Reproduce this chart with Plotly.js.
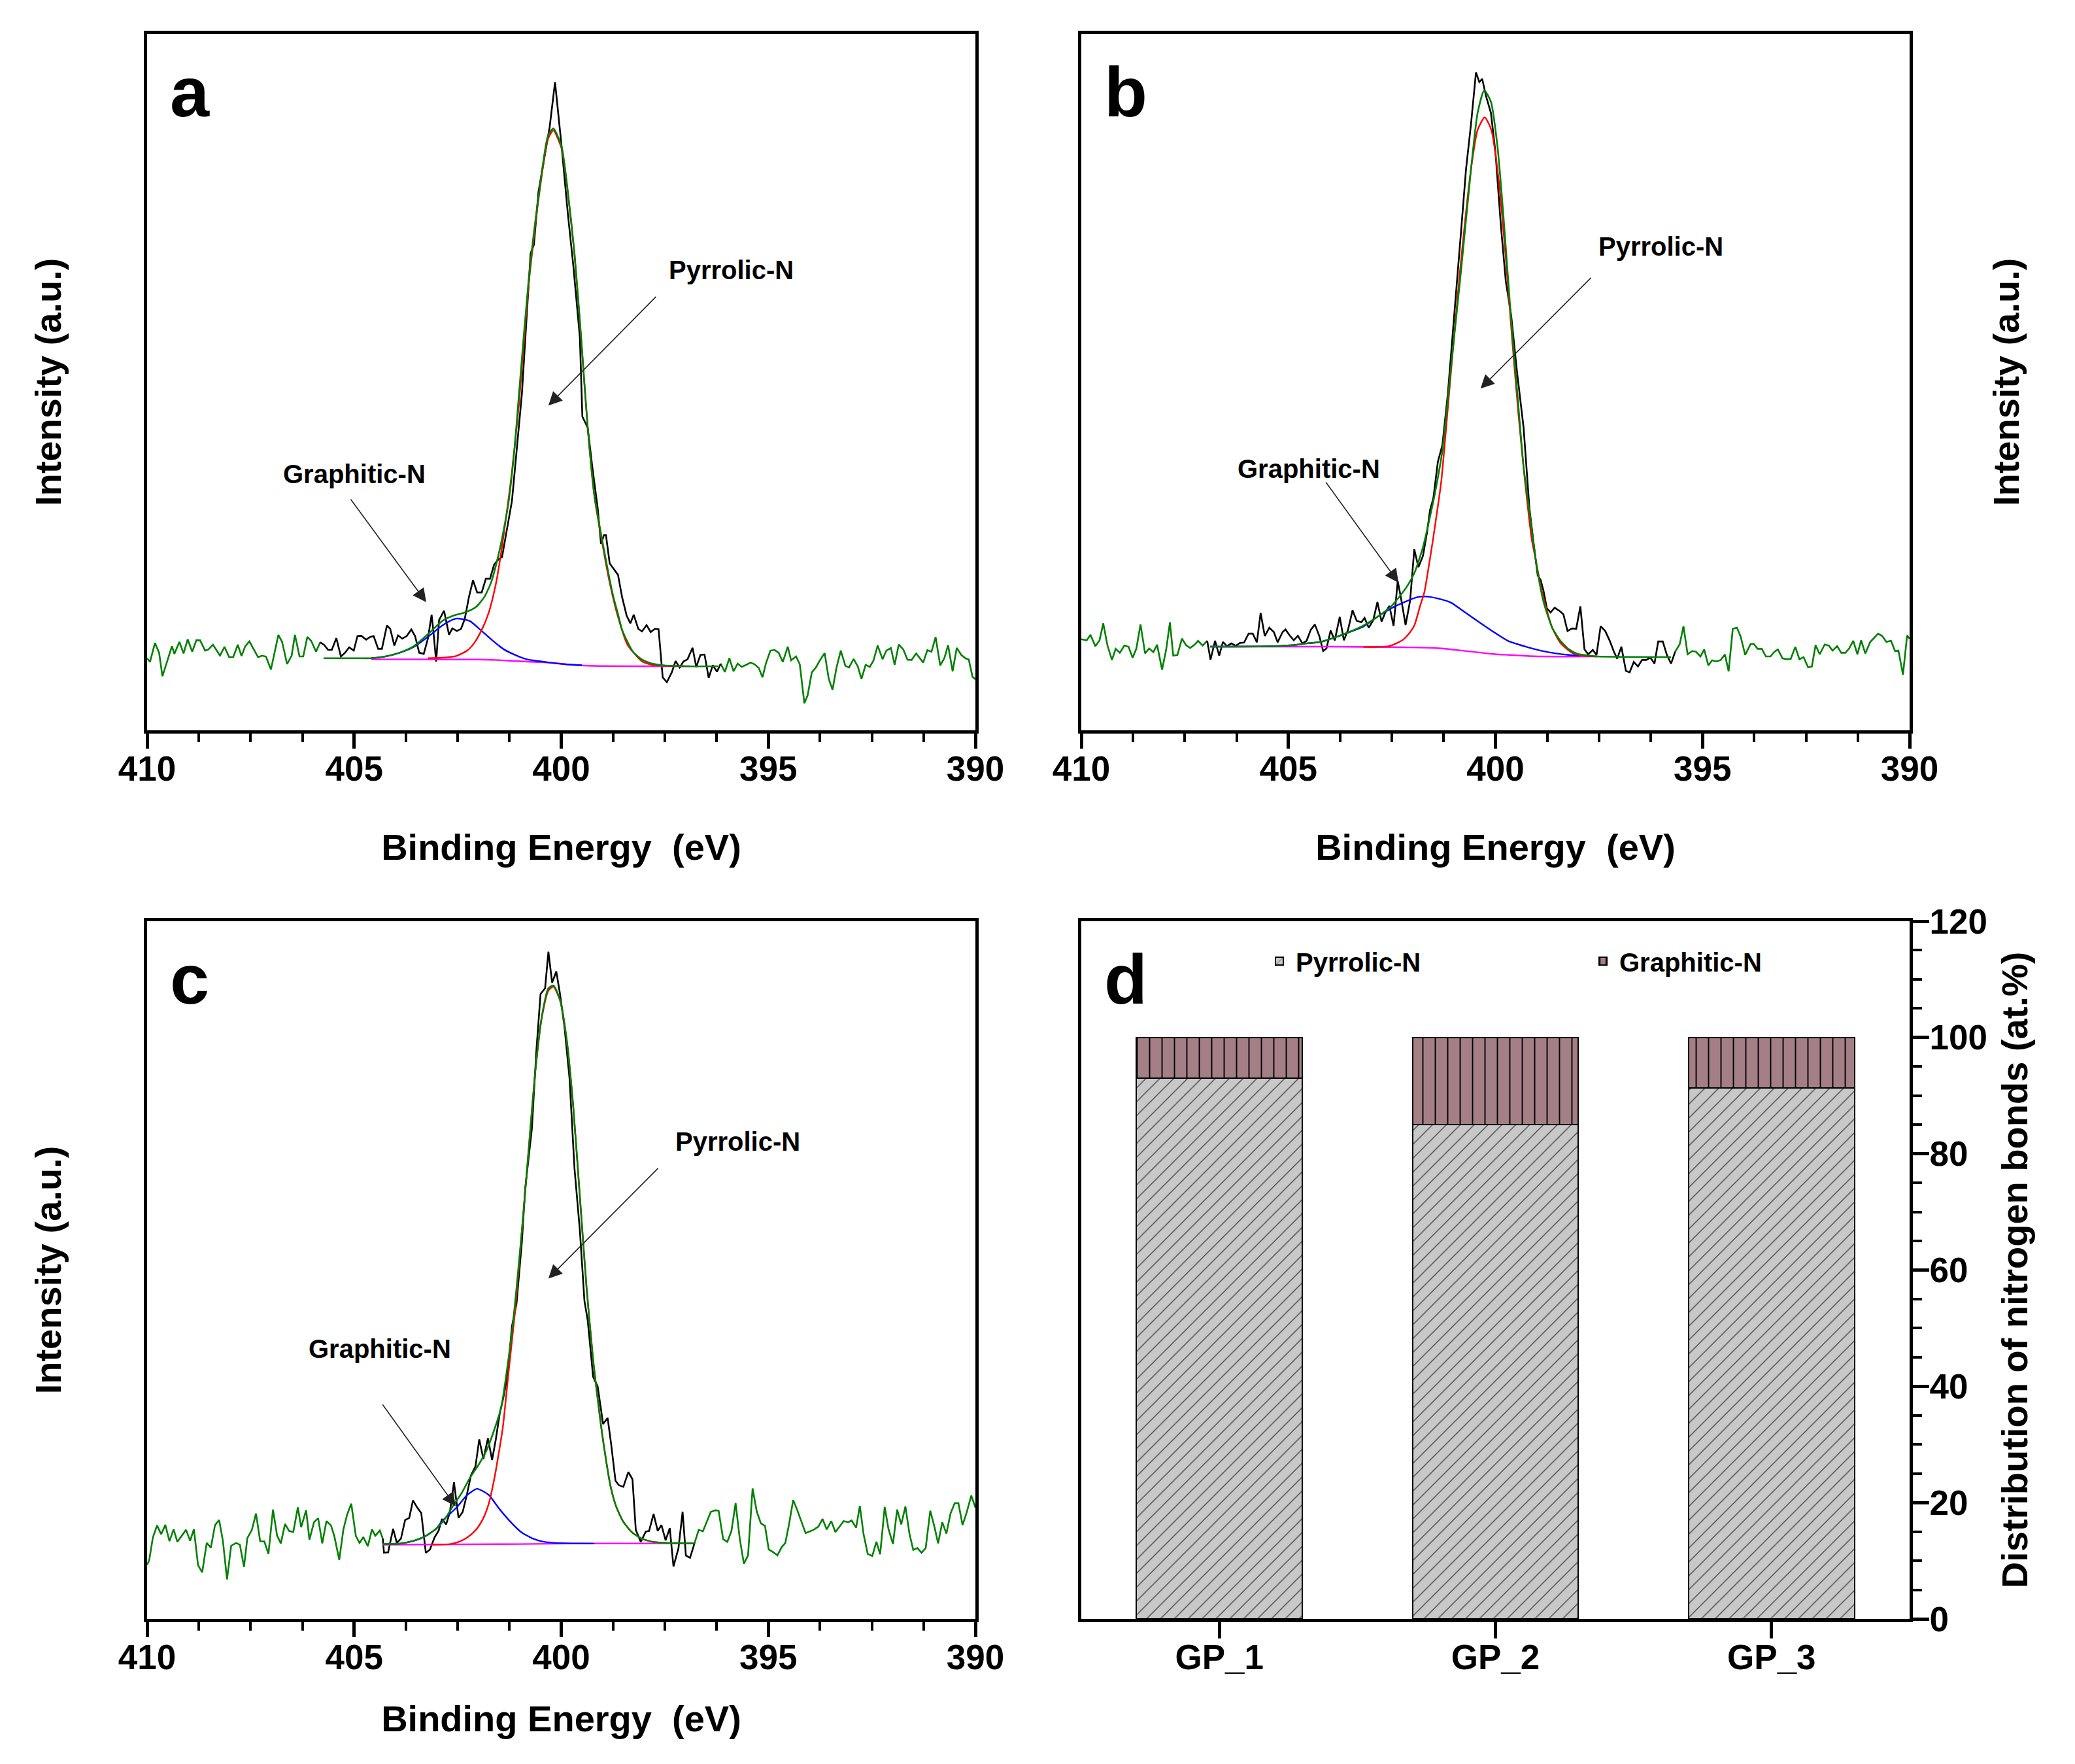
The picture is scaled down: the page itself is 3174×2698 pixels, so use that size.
<!DOCTYPE html>
<html>
<head>
<meta charset="utf-8">
<script src="https://cdn.plot.ly/plotly-3.0.1.min.js"></script>
<style>html,body{margin:0;padding:0;background:#fff;}#chart{width:3174px;height:2698px;}</style>
</head>
<body>
<div id="chart"></div>
<script>
// ---------------- DATA (binding energy eV, intensity a.u.) ----------------
// Panel a
const aRawLeft = [[410.00,110.3],[409.93,104.7],[409.81,133.7],[409.71,118.7],[409.63,82.7],[409.52,103.7],[409.40,128.7],[409.34,117],[409.22,135.3],[409.12,117.7],[409.02,139.3],[408.91,120.3],[408.81,138],[408.72,137.7],[408.60,122],[408.52,123.7],[408.41,131],[408.24,114.3],[408.13,127.7],[408.02,112],[407.92,112],[407.81,131],[407.72,113.7],[407.63,128.7],[407.53,136],[407.32,112],[407.22,114.3],[407.13,112.7],[407.01,93],[406.83,146],[406.74,135.3],[406.62,101.3],[406.51,114.3],[406.43,146],[406.32,113],[406.23,113],[406.13,143],[406.04,137],[405.92,120.3],[405.82,134.7]];
const aRawFit = [[405.82,134.7],[405.72,130.3],[405.63,123],[405.54,123],[405.43,141],[405.32,113],[405.22,118.7],[405.12,127],[405.01,122],[404.92,144.3],[404.83,144.7],[404.71,138.7],[404.62,142.7],[404.53,144.3],[404.42,124.7],[404.33,124.7],[404.21,160.3],[404.13,155.3],[404.03,129.7],[403.94,145.3],[403.84,140.3],[403.73,144.3],[403.62,154.3],[403.53,144.3],[403.43,118.7],[403.32,117],[403.22,140.3],[403.13,177],[403.09,153.7],[403.02,105.3],[402.95,168.7],[402.83,183],[402.71,146.3],[402.63,156],[402.52,152],[402.42,155.3],[402.33,170.3],[402.23,203.7],[402.13,229.7],[402.03,211],[401.92,211],[401.82,232],[401.72,232],[401.62,253.7],[401.51,262],[401.43,265],[401.19,351],[400.95,515],[400.74,730],[400.66,743],[400.55,824],[400.39,885],[400.28,923],[400.15,992],[400.07,945],[399.99,893],[399.84,790],[399.71,712],[399.55,601],[399.49,480],[399.36,463],[399.25,403],[399.12,340],[399.04,285.3],[398.97,298.7],[398.92,298.7],[398.83,255.3],[398.73,247],[398.63,238],[398.53,203.7],[398.42,175.3],[398.33,163.7],[398.25,177],[398.14,155.3],[398.05,151.3],[397.94,161],[397.84,150.3],[397.74,155.3],[397.65,154.7],[397.55,81],[397.45,73.7],[397.33,88.7],[397.24,106],[397.14,96],[397.05,105.3],[396.95,108.7],[396.83,126.3],[396.74,97],[396.64,115.3],[396.54,116],[396.44,80.3],[396.34,99.7],[396.24,89.7],[396.15,102]];
const aRawRight = [[396.15,102],[396.05,89.3],[395.94,110.3],[395.84,90.3],[395.74,102],[395.64,97],[395.53,100.3],[395.43,103.7],[395.33,101],[395.23,95.3],[395.14,81],[395.06,102],[394.95,122],[394.85,123],[394.75,118.7],[394.65,104.7],[394.53,128],[394.45,107],[394.33,113],[394.24,101],[394.13,41.3],[394.05,53.7],[393.95,88.7],[393.85,96.3],[393.74,108.7],[393.64,118],[393.54,78.7],[393.45,62],[393.35,97],[393.25,122],[393.14,98.7],[393.05,96.3],[392.94,109.3],[392.84,97.7],[392.75,78.7],[392.65,100.3],[392.55,97],[392.46,107],[392.36,129.7],[392.24,108.7],[392.15,122],[392.04,126],[391.95,100.3],[391.85,131.3],[391.74,123.7],[391.64,108],[391.54,107.7],[391.43,117.7],[391.26,103.7],[391.16,122.7],[391.06,120.3],[390.96,142.7],[390.85,99.3],[390.75,110.3],[390.66,130.3],[390.55,90.3],[390.45,126],[390.34,115.3],[390.24,110.3],[390.16,108.3],[390.07,82],[390.00,78]];
const aEnvelope = [[405.74,110.3],[405.00,110.3],[404.59,110.3],[404.25,113],[403.91,118.7],[403.56,128.7],[403.22,147],[402.88,167],[402.61,175.3],[402.33,180.3],[402.06,188.7],[401.86,203.7],[401.69,227],[401.51,270],[401.41,300],[401.27,350],[401.13,430],[401.02,515],[400.79,687],[400.55,816],[400.32,910],[400.19,921],[399.99,893],[399.84,824],[399.68,730],[399.52,601],[399.36,463],[399.20,360],[399.02,293.7],[398.95,270.3],[398.85,237],[398.74,203.7],[398.64,180.3],[398.53,153.7],[398.40,135.3],[398.27,120.3],[398.06,108.7],[397.86,103],[397.58,99.7],[397.04,98],[396.22,98]];
const aPyrrolic = [[403.22,110.3],[402.88,111],[402.54,113.7],[402.27,122],[402.10,133.7],[401.92,153.7],[401.75,180.3],[401.58,223.7],[401.48,260],[401.38,303.7],[401.20,390],[401.02,500],[400.79,680],[400.55,812],[400.32,905],[400.19,918],[399.99,890],[399.84,822],[399.68,728],[399.52,600],[399.36,462],[399.20,358],[399.02,290],[398.85,232],[398.64,176],[398.40,131],[398.06,106],[397.86,101],[397.58,99],[397.04,98]];
const aGraphitic = [[404.59,110.3],[404.25,113],[403.91,118.5],[403.56,127.5],[403.22,143],[402.88,160],[402.70,167],[402.54,171],[402.37,170],[402.20,167],[401.92,152],[401.65,137],[401.38,123.7],[401.10,115],[400.83,108.7],[400.56,106],[400.28,103.7],[399.90,101],[399.50,99.5]];
const aBaseline = [[404.59,108.7],[402.00,108.3],[401.60,107.7],[400.80,105],[400.30,103.5],[399.70,100],[399.20,98.5],[396.90,98]];

// Panel b
const bRawLeft = [[410.00,139.3],[409.87,137.7],[409.78,146],[409.66,128.7],[409.56,137.7],[409.47,163.7],[409.37,130.3],[409.26,107.7],[409.17,124.7],[409.07,118.7],[408.96,129.7],[408.86,127.7],[408.76,111],[408.67,125.3],[408.57,162],[408.46,117.7],[408.36,125.3],[408.26,119.7],[408.17,131],[408.05,92.7],[407.95,123.7],[407.86,165.3],[407.78,114.3],[407.68,115.3],[407.57,140.3],[407.47,130.3],[407.37,126],[407.26,131.3],[407.18,137],[407.07,129.7],[406.96,137]];
const bRawFit = [[406.96,137],[406.88,108],[406.77,137],[406.67,114.3],[406.58,135.3],[406.48,128.7],[406.38,133],[406.27,129.3],[406.17,133.7],[406.07,134.3],[405.96,148],[405.86,148],[405.76,134.7],[405.67,179.7],[405.57,144.3],[405.46,157],[405.35,150.3],[405.26,134.7],[405.14,150.3],[405.07,154.3],[404.97,145.3],[404.87,137.7],[404.77,144.7],[404.66,133],[404.56,137],[404.46,153.7],[404.36,162],[404.25,143.7],[404.16,121.3],[404.08,125.3],[403.98,152.7],[403.88,137.7],[403.76,173.7],[403.66,137.7],[403.56,153.7],[403.45,183.7],[403.35,167.7],[403.24,165.3],[403.16,172],[403.06,157],[402.95,168.7],[402.85,196.3],[402.75,166.3],[402.66,180.3],[402.56,190.3],[402.46,159.7],[402.36,228.7],[402.27,198.7],[402.17,161],[402.06,198.7],[401.96,277],[401.86,249.7],[401.75,267],[401.65,303.7],[401.58,337],[401.50,355],[401.39,411],[401.28,437],[401.15,515],[400.99,635],[400.83,764],[400.71,859],[400.59,928],[400.47,1007],[400.39,992],[400.32,997],[400.23,971],[400.11,945],[400.00,885],[399.87,773],[399.75,687],[399.62,635],[399.48,549],[399.32,463],[399.18,340],[399.08,287],[398.98,237],[398.91,230.3],[398.84,213.7],[398.76,187],[398.67,180.3],[398.57,187.7],[398.46,183],[398.36,177.7],[398.26,152],[398.15,156],[398.05,155.3],[397.95,189.7],[397.85,123.7],[397.76,116.3],[397.65,123],[397.56,115.3],[397.46,159.3],[397.35,152],[397.24,137],[397.14,120.3],[397.06,109.7],[396.96,128],[396.85,91],[396.76,88.7],[396.66,104.7],[396.56,97.7],[396.46,107.7],[396.36,107.7],[396.26,111.3],[396.16,102],[396.07,136],[395.96,136],[395.86,115.3],[395.76,102],[395.66,120.3]];
const bRawRight = [[395.66,120.3],[395.55,132],[395.46,159.3],[395.36,116.3],[395.25,121.3],[395.16,120.3],[395.05,113],[394.96,123.7],[394.86,99.3],[394.77,107],[394.66,105.3],[394.56,107.7],[394.46,116],[394.37,90.3],[394.27,155.3],[394.17,157],[394.08,143.7],[393.97,115.3],[393.84,132],[393.76,132],[393.67,124.7],[393.57,124.7],[393.47,113],[393.36,113],[393.26,120.3],[393.18,123.7],[393.07,110.3],[392.97,108.7],[392.87,109.3],[392.76,127.7],[392.66,108.7],[392.56,112],[392.45,96.3],[392.36,97.7],[392.27,130.3],[392.17,116.3],[392.05,131.3],[391.95,129.7],[391.86,122],[391.75,128.7],[391.65,118.7],[391.55,118.7],[391.46,125.3],[391.36,137],[391.26,116.3],[391.17,137.7],[391.07,117.7],[390.95,135.3],[390.76,148],[390.66,144.3],[390.56,135.3],[390.45,137],[390.35,121],[390.27,122],[390.16,85.3],[390.06,145.3],[390.00,140.3]];
const bEnvelope = [[406.89,128],[405.50,128.5],[404.90,130.3],[404.56,133],[404.22,135.3],[403.88,142],[403.54,150.3],[403.19,160.3],[402.85,173.7],[402.51,190.3],[402.17,217],[401.96,240.3],[401.75,280.3],[401.58,327],[401.47,360],[401.28,428.5],[401.07,557.6],[400.83,704],[400.59,858.8],[400.43,945],[400.27,979.3],[400.11,962],[399.95,893],[399.79,772.8],[399.63,635],[399.47,514.6],[399.32,402.7],[399.18,335],[399.01,253.7],[398.84,197],[398.63,157],[398.43,137],[398.22,123.7],[398.02,117],[397.74,114.3],[397.54,113],[395.76,112]];
const bPyrrolic = [[403.19,127.7],[402.85,127.7],[402.58,128.7],[402.37,133.7],[402.23,138.7],[402.10,147],[401.96,160.3],[401.82,190.3],[401.72,210.3],[401.62,247],[401.52,287],[401.45,317],[401.31,380],[401.12,514.6],[400.88,686.7],[400.59,858.8],[400.43,919],[400.26,938],[400.10,919],[399.92,841.6],[399.76,729.7],[399.60,600.7],[399.44,480],[399.28,377],[399.12,290.8],[399.04,265],[398.87,210],[398.63,157],[398.43,133.7],[398.15,118.7],[397.88,114.3],[397.54,113]];
const bGraphitic = [[406.89,128],[405.50,128.5],[404.90,130.3],[404.56,133],[404.22,135.3],[403.88,142],[403.54,150],[403.19,158.7],[402.85,173.7],[402.51,187],[402.17,197],[401.89,203.7],[401.69,204.7],[401.41,202],[401.07,195.3],[400.73,180.3],[400.39,165.3],[400.04,150.3],[399.70,137],[399.25,127.7],[398.91,122],[398.57,118],[398.22,115.3],[397.95,114.3]];
const bBaseline = [[406.89,128],[404.00,128],[402.17,127],[401.48,126],[400.80,122],[400.11,117],[399.65,115.3],[399.30,114],[398.91,113],[397.54,113]];

// Panel c
const cRawLeft = [[410.00,82.7],[409.95,89.3],[409.86,124.3],[409.76,142.7],[409.66,129.3],[409.56,143.7],[409.46,118.7],[409.36,136.7],[409.27,117.7],[409.16,127.7],[409.06,136],[408.96,119.3],[408.87,137],[408.77,82],[408.67,71],[408.56,116],[408.46,108.7],[408.36,143.3],[408.26,151],[408.17,119.3],[408.07,60.3],[407.97,111.7],[407.85,116],[407.76,113.3],[407.66,79.3],[407.58,123.3],[407.47,136],[407.37,161],[407.27,118.7],[407.17,118.3],[407.07,99.3],[406.96,167],[406.86,127],[406.77,115.3],[406.67,145],[406.57,134.3],[406.47,132.7],[406.36,170.3],[406.28,140],[406.16,166],[406.08,121],[405.97,147.7],[405.87,153.7],[405.77,115.3],[405.67,149.3],[405.56,142.7],[405.48,126.7],[405.36,90.3],[405.26,136.7],[405.17,159.3],[405.07,176],[404.96,126.7],[404.87,116],[404.78,125],[404.67,111],[404.57,136.7],[404.49,127],[404.38,135],[404.31,122.7]];
const cRawFit = [[404.31,122.7],[404.28,101],[404.18,101.7],[404.06,137.7],[403.97,116],[403.87,122.7],[403.77,151],[403.67,154.3],[403.58,181],[403.48,170.3],[403.38,161.7],[403.27,101],[403.17,106],[403.06,124.3],[402.96,135],[402.88,152.7],[402.78,144.3],[402.69,162.7],[402.59,208.7],[402.48,154.3],[402.38,163.3],[402.28,189.3],[402.18,219.3],[402.07,233.3],[401.98,274.3],[401.88,244.3],[401.77,276],[401.67,242.7],[401.58,274.3],[401.48,316],[401.41,334.3],[401.30,369.7],[401.19,447.1],[401.08,481.6],[400.95,576.2],[400.87,658],[400.71,748.3],[400.60,868.8],[400.50,954.9],[400.39,963.5],[400.31,1019.4],[400.22,972.1],[400.12,989.3],[400.03,954.9],[399.92,903.2],[399.80,825.8],[399.68,688.1],[399.55,593.4],[399.44,485.9],[399.36,455.7],[399.23,369.7],[399.12,355],[398.99,297.7],[398.88,307],[398.80,269.3],[398.69,211],[398.61,204.3],[398.50,201.7],[398.38,224.3],[398.28,213.3],[398.20,136],[398.08,117.7],[397.96,133.3],[397.88,134.3],[397.77,160.3],[397.67,134.3],[397.58,143.3],[397.48,120],[397.38,138.7],[397.29,80],[397.17,107.7],[397.07,163.7],[396.99,96.7],[396.89,93.3],[396.78,116]];
const cRawRight = [[396.78,116],[396.68,136],[396.58,133.7],[396.39,163.3],[396.28,166],[396.20,165.3],[396.09,121.7],[395.99,117.7],[395.89,134.3],[395.79,177],[395.69,122.7],[395.59,84.3],[395.49,96.7],[395.38,199.3],[395.28,164.3],[395.18,146],[395.08,142],[394.99,106],[394.88,101.7],[394.78,97],[394.68,109.3],[394.59,116],[394.50,144.3],[394.40,181.7],[394.30,166],[394.20,149.3],[394.10,131],[393.97,134.3],[393.89,136.7],[393.79,141],[393.69,152.7],[393.59,136.7],[393.48,149.3],[393.38,132.7],[393.28,141],[393.18,149.3],[393.07,147.7],[392.99,150.3],[392.88,139.3],[392.79,172.7],[392.70,129.3],[392.60,99.3],[392.49,96],[392.39,117.7],[392.30,98.7],[392.19,171],[392.10,137.7],[391.99,114.3],[391.89,167],[391.79,144.3],[391.69,171.7],[391.59,129.3],[391.50,105.3],[391.40,108.3],[391.30,101],[391.20,108.3],[391.09,165.3],[390.99,141],[390.90,115.3],[390.80,147.7],[390.70,130.3],[390.60,161],[390.50,176.7],[390.41,176.7],[390.31,143.3],[390.21,162.7],[390.10,188.3],[390.00,170]];
const cEnvelope = [[404.31,114.3],[403.90,115],[403.56,119.3],[403.29,126],[403.02,137.7],[402.81,152.7],[402.61,172.7],[402.40,192.7],[402.20,216],[401.99,236],[401.79,259.3],[401.58,296],[401.45,322.7],[401.19,438.6],[400.95,593.4],[400.79,714],[400.63,834.4],[400.47,920.5],[400.31,963.5],[400.19,967.8],[400.03,946.3],[399.87,886],[399.71,782.8],[399.55,645.1],[399.39,507.4],[399.23,395.5],[399.12,336],[399.02,286],[398.91,239.3],[398.81,202.7],[398.68,172.7],[398.51,149.3],[398.30,132.7],[398.06,122.7],[397.79,117.7],[397.45,116],[396.78,115.3]];
const cPyrrolic = [[403.15,113.3],[402.68,114.3],[402.47,117.7],[402.27,124.3],[402.06,136],[401.89,152.7],[401.75,176],[401.62,212.7],[401.51,252.7],[401.41,292.7],[401.27,378],[401.11,473],[400.95,593.4],[400.79,714],[400.63,834],[400.47,918],[400.31,960],[400.19,966],[400.03,945],[399.87,885],[399.71,782],[399.55,645],[399.39,507],[399.23,395],[399.12,336],[399.02,286],[398.91,239],[398.81,202.7],[398.68,172.7],[398.51,149.3],[398.30,132.7],[398.06,122.7],[397.79,117.7],[397.45,116]];
const cGraphitic = [[404.31,114.3],[403.90,115],[403.56,119.3],[403.29,126],[403.02,137.7],[402.88,149.3],[402.54,169.3],[402.27,189.3],[402.03,198.7],[401.75,189.3],[401.51,169.3],[401.24,149.3],[400.97,132.7],[400.69,122.7],[400.42,117.7],[400.15,116],[399.74,115.3],[399.20,115]];
const cBaseline = [[404.31,113.3],[401.00,114.3],[399.50,115.3],[396.78,115.3]];

// Panel d
const samples = ['GP_1', 'GP_2', 'GP_3'];
const pyrrolicPct = [93.0, 85.0, 91.3];
const graphiticPct = [7.0, 15.0, 8.7];

// x ticks for XPS panels
const beTickVals = [410, 405, 400, 395, 390];
const beTickText = ['410', '405', '400', '395', '390'];

// ---------------- BUILD ----------------
const FONT = 'Liberation Sans, Arial, Helvetica, sans-serif';
const GREEN = '#008000', BLACK = '#000000', RED = '#ff0000', BLUE = '#0000ff', MAG = '#ff00ff';
const xs = p => p.map(d => d[0]);
const ys = p => p.map(d => d[1]);

function line(pts, color, width, xa, ya, spline) {
  return {type: 'scatter', mode: 'lines', x: xs(pts), y: ys(pts), xaxis: xa, yaxis: ya,
    line: {color: color, width: width, shape: spline ? 'spline' : 'linear', smoothing: 0.6},
    showlegend: false, hoverinfo: 'skip'};
}
function panel(p, xa, ya) {
  return [
    line(p.rawL, GREEN, 2.6, xa, ya, false),
    line(p.rawR, GREEN, 2.6, xa, ya, false),
    line(p.raw, BLACK, 2.6, xa, ya, false),
    line(p.base, MAG, 2.4, xa, ya, true),
    line(p.gra, BLUE, 2.4, xa, ya, true),
    line(p.pyr, RED, 2.4, xa, ya, true),
    line(p.env, GREEN, 2.6, xa, ya, true)
  ];
}

const traces = [].concat(
  panel({rawL: aRawLeft, rawR: aRawRight, raw: aRawFit, env: aEnvelope, pyr: aPyrrolic, gra: aGraphitic, base: aBaseline}, 'x', 'y'),
  panel({rawL: bRawLeft, rawR: bRawRight, raw: bRawFit, env: bEnvelope, pyr: bPyrrolic, gra: bGraphitic, base: bBaseline}, 'x2', 'y2'),
  panel({rawL: cRawLeft, rawR: cRawRight, raw: cRawFit, env: cEnvelope, pyr: cPyrrolic, gra: cGraphitic, base: cBaseline}, 'x3', 'y3'),
  [
    {type: 'bar', name: 'Pyrrolic-N', x: samples, y: pyrrolicPct, xaxis: 'x4', yaxis: 'y4', width: 0.6,
     marker: {color: '#c8c8c8', line: {color: '#000', width: 2},
              pattern: {shape: '/', fgcolor: '#4a4a4a', bgcolor: '#c8c8c8', size: 15, solidity: 0.1}},
     hoverinfo: 'skip'},
    {type: 'bar', name: 'Graphitic-N', x: samples, y: graphiticPct, xaxis: 'x4', yaxis: 'y4', width: 0.6,
     marker: {color: '#a47f85', line: {color: '#000', width: 2},
              pattern: {shape: '|', fgcolor: '#000000', bgcolor: '#a47f85', size: 19, solidity: 0.1}},
     hoverinfo: 'skip'}
  ]
);

const W = 3174, H = 2698;
const domLeft = [225 / W, 1492 / W];
const domRight = [1654 / W, 2921 / W];
const domTop = [1 - 1117 / H, 1 - 51.6 / H];
const domBot = [1 - 2476 / H, 1 - 1409 / H];

function beAxis(dom, anchor, standoff) {
  return {domain: dom, anchor: anchor, range: [410, 390], showgrid: false, zeroline: false,
    showline: true, mirror: true, linecolor: '#000', linewidth: 5,
    tickmode: 'array', tickvals: beTickVals, ticktext: beTickText,
    ticks: 'outside', ticklen: 23, tickwidth: 5, tickcolor: '#000', ticklabelstandoff: -15,
    minor: {tickmode: 'linear', tick0: 390, dtick: 1.25, ticks: 'outside', ticklen: 13, tickwidth: 4, tickcolor: '#000'},
    tickfont: {family: FONT, size: 53, color: '#000', weight: 'bold'},
    title: {text: 'Binding Energy\u00a0 (eV)', font: {family: FONT, size: 56, color: '#000', weight: 'bold'}, standoff: standoff}};
}
function intAxis(dom, anchor, side, standoff) {
  return {domain: dom, anchor: anchor, range: [0, 1066], side: side, showgrid: false, zeroline: false,
    showline: true, mirror: true, linecolor: '#000', linewidth: 5, ticks: '', showticklabels: false,
    title: {text: 'Intensity (a.u.)', font: {family: FONT, size: 56, color: '#000', weight: 'bold'}, standoff: standoff}};
}

const labelFont = {family: FONT, size: 40, color: '#000', weight: 'bold'};
const letterFont = {family: FONT, size: 108, color: '#000', weight: 'bold'};

function arrow(xa, ya, head, tail) {
  return {xref: xa, yref: ya, axref: xa, ayref: ya, x: head[0], y: head[1], ax: tail[0], ay: tail[1],
    text: '', showarrow: true, arrowhead: 2, arrowsize: 2.6, arrowwidth: 1.6, arrowcolor: '#222'};
}
function label(xa, ya, pos, txt) {
  return {xref: xa, yref: ya, x: pos[0], y: pos[1], text: txt, showarrow: false, font: labelFont, xanchor: 'center', yanchor: 'middle'};
}
function letter(xa, ya, txt) {
  return {xref: xa + ' domain', yref: ya + ' domain', x: 0.026, y: 0.917, text: txt, showarrow: false,
    font: letterFont, xanchor: 'left', yanchor: 'middle'};
}

const annotations = [
  letter('x', 'y', 'a'), letter('x2', 'y2', 'b'), letter('x3', 'y3', 'c'), letter('x4', 'y4', 'd'),
  label('x', 'y', [395.89, 704], 'Pyrrolic-N'), arrow('x', 'y', [400.31, 497], [397.69, 665]),
  label('x', 'y', [404.99, 392], 'Graphitic-N'), arrow('x', 'y', [403.26, 196], [405.10, 355]),
  label('x2', 'y2', [396.01, 740], 'Pyrrolic-N'), arrow('x2', 'y2', [400.36, 523], [397.67, 694]),
  label('x2', 'y2', [404.51, 400], 'Graphitic-N'), arrow('x2', 'y2', [402.34, 226], [404.11, 381]),
  label('x3', 'y3', [395.74, 729], 'Pyrrolic-N'), arrow('x3', 'y3', [400.31, 520], [397.64, 690]),
  label('x3', 'y3', [404.38, 413], 'Graphitic-N'), arrow('x3', 'y3', [402.55, 172], [404.33, 329])
];

const layout = {
  width: W, height: H, margin: {l: 0, r: 0, t: 0, b: 0},
  paper_bgcolor: '#ffffff', plot_bgcolor: '#ffffff',
  font: {family: FONT, color: '#000'},
  barmode: 'stack', bargap: 0.4,
  xaxis: beAxis(domLeft, 'y', 74),
  yaxis: intAxis(domTop, 'x', 'left', 110),
  xaxis2: beAxis(domRight, 'y2', 74),
  yaxis2: intAxis(domTop, 'x2', 'right', 125),
  xaxis3: beAxis(domLeft, 'y3', 48),
  yaxis3: intAxis(domBot, 'x3', 'left', 110),
  xaxis4: {domain: domRight, anchor: 'y4', type: 'category', range: [-0.5, 2.5], showgrid: false, zeroline: false,
    showline: true, mirror: true, linecolor: '#000', linewidth: 5,
    ticks: 'outside', ticklen: 25, tickwidth: 5, tickcolor: '#000', ticklabelstandoff: -17,
    tickfont: {family: FONT, size: 53, color: '#000', weight: 'bold'}},
  yaxis4: {domain: domBot, anchor: 'x4', side: 'right', range: [0, 120], showgrid: false, zeroline: false,
    showline: true, mirror: true, linecolor: '#000', linewidth: 5,
    tickmode: 'linear', tick0: 0, dtick: 20, ticks: 'outside', ticklen: 25, tickwidth: 5, tickcolor: '#000',
    ticklabelstandoff: -10,
    minor: {tickmode: 'linear', tick0: 0, dtick: 5, ticks: 'outside', ticklen: 14, tickwidth: 4, tickcolor: '#000'},
    tickfont: {family: FONT, size: 53, color: '#000', weight: 'bold'},
    title: {text: 'Distribution of nitrogen bonds (at.%)', font: {family: FONT, size: 56, color: '#000', weight: 'bold'}, standoff: 24}},
  showlegend: true,
  legend: {orientation: 'h', x: 1932 / W, xanchor: 'left', y: 1 - 1470 / H, yanchor: 'middle',
    entrywidth: 440, entrywidthmode: 'pixels', traceorder: 'normal',
    font: {family: FONT, size: 40, color: '#000', weight: 'bold'}, bgcolor: 'rgba(0,0,0,0)', itemwidth: 40},
  annotations: annotations
};

Plotly.newPlot('chart', traces, layout, {displayModeBar: false, staticPlot: true});
</script>
</body>
</html>
